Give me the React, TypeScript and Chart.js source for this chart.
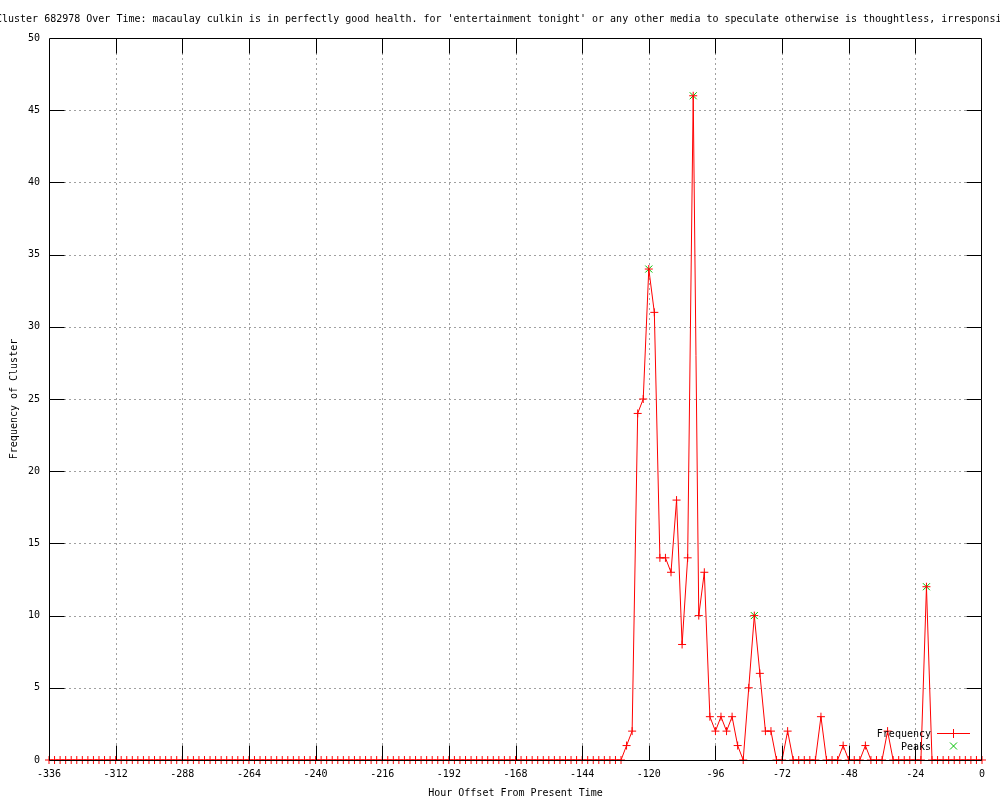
import { useEffect, useRef } from "react";
import { Chart, registerables } from "chart.js";

Chart.register(...registerables);

const FONT = "'DejaVu Sans Mono', 'Liberation Mono', monospace";

const TITLE =
  "Cluster 682978 Over Time: macaulay culkin is in perfectly good health. for 'entertainment tonight' or any other media to speculate otherwise is thoughtless, irresponsible";

const hours = [
  -336, -334, -332, -330, -328, -326, -324, -322, -320, -318, -316, -314,
  -312, -310, -308, -306, -304, -302, -300, -298, -296, -294, -292, -290,
  -288, -286, -284, -282, -280, -278, -276, -274, -272, -270, -268, -266,
  -264, -262, -260, -258, -256, -254, -252, -250, -248, -246, -244, -242,
  -240, -238, -236, -234, -232, -230, -228, -226, -224, -222, -220, -218,
  -216, -214, -212, -210, -208, -206, -204, -202, -200, -198, -196, -194,
  -192, -190, -188, -186, -184, -182, -180, -178, -176, -174, -172, -170,
  -168, -166, -164, -162, -160, -158, -156, -154, -152, -150, -148, -146,
  -144, -142, -140, -138, -136, -134, -132, -130, -128, -126, -124, -122,
  -120, -118, -116, -114, -112, -110, -108, -106, -104, -102, -100, -98,
  -96, -94, -92, -90, -88, -86, -84, -82, -80, -78, -76, -74,
  -72, -70, -68, -66, -64, -62, -60, -58, -56, -54, -52, -50,
  -48, -46, -44, -42, -40, -38, -36, -34, -32, -30, -28, -26,
  -24, -22, -20, -18, -16, -14, -12, -10, -8, -6, -4, -2,
  0,
];

const frequency = [
  0, 0, 0, 0, 0, 0, 0, 0, 0, 0, 0, 0,
  0, 0, 0, 0, 0, 0, 0, 0, 0, 0, 0, 0,
  0, 0, 0, 0, 0, 0, 0, 0, 0, 0, 0, 0,
  0, 0, 0, 0, 0, 0, 0, 0, 0, 0, 0, 0,
  0, 0, 0, 0, 0, 0, 0, 0, 0, 0, 0, 0,
  0, 0, 0, 0, 0, 0, 0, 0, 0, 0, 0, 0,
  0, 0, 0, 0, 0, 0, 0, 0, 0, 0, 0, 0,
  0, 0, 0, 0, 0, 0, 0, 0, 0, 0, 0, 0,
  0, 0, 0, 0, 0, 0, 0, 0, 1, 2, 24, 25,
  34, 31, 14, 14, 13, 18, 8, 14, 46, 10, 13, 3,
  2, 3, 2, 3, 1, 0, 5, 10, 6, 2, 2, 0,
  0, 2, 0, 0, 0, 0, 0, 3, 0, 0, 0, 1,
  0, 0, 0, 1, 0, 0, 0, 2, 0, 0, 0, 0,
  0, 0, 12, 0, 0, 0, 0, 0, 0, 0, 0, 0,
  0,
];

const peakHours = [-120, -104, -82, -20];
const peakValues = [34, 46, 10, 12];

const X_MIN = -336;
const X_MAX = 0;
const X_STEP = 24;
const Y_MIN = 0;
const Y_MAX = 50;
const Y_STEP = 5;

const RED = "rgb(255,0,0)";
const GREEN = "rgb(0,192,0)";
const GRID = "#a0a0a0";
const TICK_LEN = 15;

function drawLegend(ctx: CanvasRenderingContext2D) {
  ctx.save();
  ctx.globalAlpha = 1;
  ctx.globalCompositeOperation = "source-over";
  ctx.setLineDash([]);
  ctx.fillStyle = "#000";
  ctx.font = `10px ${FONT}`;
  ctx.textAlign = "right";
  ctx.textBaseline = "alphabetic";
  ctx.fillText("Frequency", 931, 737);
  ctx.fillText("Peaks", 931, 750);
  ctx.lineWidth = 1;
  ctx.strokeStyle = RED;
  ctx.beginPath();
  ctx.moveTo(937, 733.5);
  ctx.lineTo(970, 733.5);
  ctx.moveTo(953.5, 729);
  ctx.lineTo(953.5, 738);
  ctx.stroke();
  ctx.strokeStyle = GREEN;
  ctx.beginPath();
  ctx.moveTo(950, 742.5);
  ctx.lineTo(957, 749.5);
  ctx.moveTo(957, 742.5);
  ctx.lineTo(950, 749.5);
  ctx.stroke();
  ctx.restore();
}

const gnuplotPlugin = {
  id: "gnuplotLook",
  beforeDatasetsDraw(chart: any) {
    const { ctx, chartArea } = chart;
    const { left, right, top, bottom } = chartArea;
    const xs = chart.scales.x;
    const ys = chart.scales.y;
    ctx.save();
    ctx.strokeStyle = GRID;
    ctx.lineWidth = 1;
    ctx.setLineDash([2, 3]);
    xs.ticks.forEach((t: any) => {
      const px = Math.round(xs.getPixelForValue(t.value)) + 0.5;
      if (px <= left + 1 || px >= right - 1) return;
      ctx.beginPath();
      ctx.moveTo(px, top);
      ctx.lineTo(px, bottom);
      ctx.stroke();
    });
    ys.ticks.forEach((t: any) => {
      const py = Math.round(ys.getPixelForValue(t.value)) + 0.5;
      if (py <= top + 1 || py >= bottom - 1) return;
      ctx.beginPath();
      ctx.moveTo(left, py);
      ctx.lineTo(right, py);
      ctx.stroke();
    });
    ctx.restore();
  },
  afterDatasetsDraw(chart: any) {
    const { ctx, chartArea } = chart;
    const { left, right, top, bottom } = chartArea;
    const xs = chart.scales.x;
    const ys = chart.scales.y;
    ctx.save();
    ctx.strokeStyle = "#000";
    ctx.lineWidth = 1;
    ctx.setLineDash([]);
    const L = Math.round(left) + 0.5;
    const R = Math.round(right) - 0.5;
    const T = Math.round(top) + 0.5;
    const B = Math.round(bottom) + 0.5;
    ctx.beginPath();
    ctx.moveTo(L, T);
    ctx.lineTo(R, T);
    ctx.lineTo(R, B);
    ctx.lineTo(L, B);
    ctx.closePath();
    ctx.stroke();
    xs.ticks.forEach((t: any) => {
      const px = Math.round(xs.getPixelForValue(t.value)) + 0.5;
      if (px <= L + 1 || px >= R - 1) return;
      ctx.beginPath();
      ctx.moveTo(px, B);
      ctx.lineTo(px, B - TICK_LEN);
      ctx.moveTo(px, T);
      ctx.lineTo(px, T + TICK_LEN);
      ctx.stroke();
    });
    ys.ticks.forEach((t: any) => {
      const py = Math.round(ys.getPixelForValue(t.value)) + 0.5;
      if (py <= T + 1 || py >= B - 1) return;
      ctx.beginPath();
      ctx.moveTo(L, py);
      ctx.lineTo(L + TICK_LEN, py);
      ctx.moveTo(R, py);
      ctx.lineTo(R - TICK_LEN, py);
      ctx.stroke();
    });
    ctx.restore();
    drawLegend(ctx);
  },
  afterDraw(chart: any) {
    const { ctx } = chart;
    ctx.save();
    ctx.fillStyle = "#000";
    ctx.font = `10px ${FONT}`;
    ctx.textAlign = "left";
    ctx.textBaseline = "alphabetic";
    ctx.fillText(TITLE, -4, 22);
    ctx.restore();
  },
};

export default function App() {
  const canvasRef = useRef<HTMLCanvasElement | null>(null);

  useEffect(() => {
    if (!canvasRef.current) return;
    const freqData = hours.map((h, i) => ({ x: h, y: frequency[i] }));
    const peakData = peakHours.map((h, i) => ({ x: h, y: peakValues[i] }));

    const chart = new Chart(canvasRef.current, {
      type: "line",
      data: {
        datasets: [
          {
            label: "Frequency",
            data: freqData,
            borderColor: RED,
            backgroundColor: RED,
            borderWidth: 1,
            tension: 0,
            pointStyle: "cross",
            pointRadius: 4,
            pointBorderWidth: 1,
            pointBorderColor: RED,
            pointHoverRadius: 4,
            clip: false,
          } as any,
          {
            label: "Peaks",
            data: peakData,
            showLine: false,
            borderColor: GREEN,
            backgroundColor: GREEN,
            pointStyle: "crossRot",
            pointRadius: 5,
            pointBorderWidth: 1,
            pointBorderColor: GREEN,
            clip: false,
          } as any,
        ],
      },
      options: {
        responsive: false,
        animation: false,
        devicePixelRatio: 1,
        layout: { padding: { top: 38, right: 18, bottom: 0, left: 0 } },
        plugins: {
          legend: { display: false },
          tooltip: { enabled: false },
          title: { display: false },
        },
        events: [],
        scales: {
          x: {
            type: "linear",
            min: X_MIN,
            max: X_MAX,
            afterFit: (s: any) => {
              s.height = 40;
            },
            ticks: {
              stepSize: X_STEP,
              color: "#000",
              font: { family: FONT, size: 10 },
              padding: 8,
              maxRotation: 0,
              autoSkip: false,
              callback: (v: any) => String(v),
            },
            grid: { display: false, drawTicks: false },
            border: { display: false },
            title: {
              display: true,
              text: "Hour Offset From Present Time",
              color: "#000",
              font: { family: FONT, size: 10 },
              padding: { top: 1, bottom: 1 },
            },
          },
          y: {
            type: "linear",
            min: Y_MIN,
            max: Y_MAX,
            afterFit: (s: any) => {
              s.width = 49;
            },
            ticks: {
              stepSize: Y_STEP,
              color: "#000",
              font: { family: FONT, size: 10 },
              padding: 9,
              callback: (v: any) => String(v),
            },
            grid: { display: false, drawTicks: false },
            border: { display: false },
            title: {
              display: true,
              text: "Frequency of Cluster",
              color: "#000",
              font: { family: FONT, size: 10 },
              padding: { top: 8, bottom: 8 },
            },
          },
        },
      } as any,
      plugins: [gnuplotPlugin],
    });
    return () => chart.destroy();
  }, []);

  return (
    <div style={{ position: "absolute", left: 0, top: 0, width: 1000, height: 800, background: "#fff" }}>
      <canvas ref={canvasRef} width={1000} height={800} style={{ display: "block" }} />
    </div>
  );
}
